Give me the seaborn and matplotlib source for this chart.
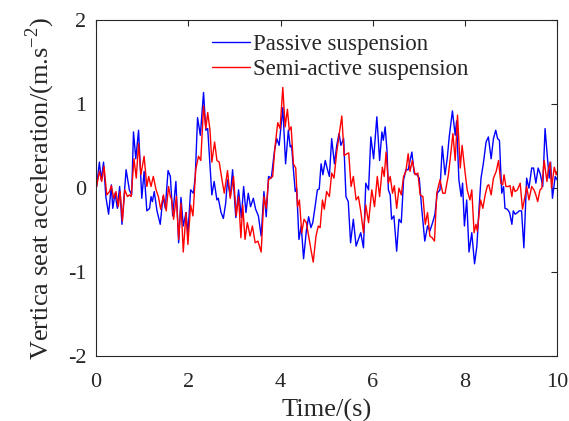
import numpy as np
import pandas as pd
import seaborn as sns
import matplotlib
matplotlib.use("Agg")
import matplotlib.pyplot as plt

# values (time in s, acceleration in m/s^2)
t_passive = [0.01, 0.07, 0.11, 0.16, 0.21, 0.27, 0.33, 0.36, 0.41, 0.46, 0.51, 0.56, 0.65, 0.72, 0.77,
             0.81, 0.86, 0.92, 0.99, 1.04, 1.10, 1.16, 1.19, 1.22, 1.26, 1.32, 1.39, 1.45, 1.50, 1.56,
             1.61, 1.66, 1.73, 1.79, 1.84, 1.89, 1.95, 1.99, 2.05, 2.11, 2.15, 2.20, 2.26, 2.33, 2.38,
             2.42, 2.51, 2.56, 2.62, 2.65, 2.71, 2.76, 2.81, 2.85, 2.91, 2.96, 3.03, 3.09, 3.15, 3.20,
             3.25, 3.30, 3.35, 3.41, 3.46, 3.52, 3.58, 3.64, 3.69, 3.74, 3.80, 3.87, 3.92, 3.97, 4.05,
             4.11, 4.17, 4.21, 4.24, 4.28, 4.32, 4.35, 4.40, 4.45, 4.50, 4.56, 4.61, 4.66, 4.70, 4.75,
             4.80, 4.84, 4.88, 4.92, 4.97, 5.02, 5.06, 5.11, 5.17, 5.22, 5.27, 5.31, 5.37, 5.42, 5.47,
             5.52, 5.58, 5.64, 5.69, 5.74, 5.80, 5.85, 5.91, 5.96, 6.02, 6.09, 6.15, 6.20, 6.23, 6.27,
             6.31, 6.34, 6.38, 6.41, 6.46, 6.52, 6.57, 6.62, 6.67, 6.72, 6.77, 6.85, 6.90, 6.96, 7.01,
             7.06, 7.13, 7.19, 7.24, 7.30, 7.35, 7.40, 7.46, 7.51, 7.57, 7.62, 7.66, 7.73, 7.79, 7.82,
             7.87, 7.92, 7.95, 7.99, 8.04, 8.09, 8.15, 8.21, 8.26, 8.31, 8.35, 8.40, 8.46, 8.51, 8.57,
             8.62, 8.67, 8.71, 8.75, 8.80, 8.84, 8.87, 8.92, 8.97, 9.02, 9.05, 9.09, 9.14, 9.18, 9.23,
             9.28, 9.34, 9.39, 9.45, 9.49, 9.54, 9.59, 9.64, 9.69, 9.74, 9.79, 9.83, 9.86, 9.90, 9.96,
             10.0]
a_passive = [0.02, 0.31, 0.10, 0.31, -0.10, -0.31, 0.04, -0.24, -0.06, -0.24, 0.02, -0.43, 0.22, -0.02, -0.08,
             0.67, 0.35, 0.69, -0.12, 0.20, -0.27, -0.24, -0.10, -0.16, -0.04, -0.27, -0.43, -0.10, -0.24, 0.21,
             0.14, -0.33, 0.08, -0.65, -0.11, -0.45, -0.29, -0.55, -0.02, -0.06, 0.14, 0.84, 0.63, 1.14, 0.69,
             0.71, -0.08, 0.08, -0.14, -0.12, -0.29, -0.36, -0.18, 0.10, -0.10, 0.22, -0.35, -0.02, -0.35, 0.02,
             -0.29, -0.06, -0.22, -0.12, -0.25, -0.33, -0.57, -0.04, -0.34, 0.14, 0.12, 0.45, 0.59, 0.51, 0.96,
             0.29, 0.69, 0.49, 0.51, 0.22, -0.04, 0.00, -0.61, -0.45, -0.84, -0.51, -0.34, -0.47, -0.41, -0.22,
             -0.02, -0.01, 0.29, 0.16, 0.33, 0.22, 0.14, 0.59, 0.29, 0.51, 0.65, 0.51, 0.59, -0.10, -0.16,
             -0.65, -0.37, -0.69, -0.61, -0.53, -0.71, 0.06, -0.02, 0.61, 0.35, 0.85, 0.33, 0.67, 0.57, 0.73,
             0.45, -0.02, -0.08, -0.37, -0.33, -0.75, -0.37, -0.41, 0.10, 0.22, 0.22, 0.43, 0.18, 0.16, 0.12,
             -0.22, -0.63, -0.45, -0.51, -0.41, -0.31, -0.06, -0.02, 0.50, 0.16, 0.37, 0.61, 0.92, 0.63, 0.80,
             0.10, -0.10, 0.06, -0.45, -0.14, -0.76, -0.53, -0.90, -0.69, -0.22, 0.12, 0.29, 0.55, 0.61, 0.35,
             0.59, 0.69, 0.59, 0.57, -0.06, 0.02, -0.24, -0.25, -0.29, -0.43, -0.27, -0.31, -0.29, -0.27, -0.27,
             -0.71, 0.12, 0.00, 0.24, 0.24, 0.06, 0.24, 0.16, 0.02, 0.71, 0.37, 0.12, 0.31, -0.12, 0.14,
             0.10]

t_semi = [0.01, 0.07, 0.12, 0.17, 0.23, 0.29, 0.33, 0.38, 0.43, 0.48, 0.52, 0.57, 0.62, 0.68, 0.72,
          0.76, 0.82, 0.87, 0.92, 0.97, 1.04, 1.10, 1.14, 1.19, 1.24, 1.30, 1.35, 1.40, 1.46, 1.52,
          1.57, 1.61, 1.64, 1.68, 1.74, 1.79, 1.84, 1.89, 1.95, 1.99, 2.05, 2.10, 2.16, 2.22, 2.27,
          2.33, 2.38, 2.42, 2.47, 2.51, 2.57, 2.62, 2.67, 2.73, 2.78, 2.85, 2.91, 2.98, 3.04, 3.09,
          3.14, 3.18, 3.23, 3.28, 3.34, 3.39, 3.45, 3.51, 3.58, 3.64, 3.69, 3.74, 3.83, 3.88, 3.94,
          3.99, 4.05, 4.10, 4.15, 4.19, 4.23, 4.28, 4.33, 4.37, 4.41, 4.46, 4.51, 4.56, 4.61, 4.66,
          4.71, 4.77, 4.82, 4.86, 4.91, 4.95, 5.00, 5.06, 5.11, 5.16, 5.22, 5.28, 5.33, 5.38, 5.44,
          5.48, 5.53, 5.58, 5.64, 5.69, 5.74, 5.80, 5.85, 5.91, 5.98, 6.04, 6.10, 6.15, 6.21, 6.25,
          6.29, 6.34, 6.38, 6.43, 6.47, 6.52, 6.57, 6.62, 6.67, 6.72, 6.77, 6.81, 6.86, 6.92, 6.98,
          7.03, 7.09, 7.14, 7.19, 7.24, 7.29, 7.34, 7.39, 7.46, 7.52, 7.57, 7.64, 7.69, 7.74, 7.79,
          7.84, 7.90, 7.94, 8.00, 8.05, 8.11, 8.15, 8.20, 8.24, 8.27, 8.34, 8.39, 8.44, 8.49, 8.52,
          8.57, 8.62, 8.68, 8.73, 8.78, 8.82, 8.85, 8.89, 8.94, 8.98, 9.02, 9.05, 9.09, 9.14, 9.20,
          9.25, 9.31, 9.34, 9.39, 9.45, 9.50, 9.54, 9.58, 9.63, 9.67, 9.72, 9.78, 9.81, 9.85, 9.88,
          9.94, 9.98, 10.0]
a_semi = [0.02, 0.20, 0.08, 0.26, -0.08, -0.04, 0.03, -0.12, -0.04, -0.22, -0.04, -0.39, -0.02, -0.10, -0.08,
          -0.10, 0.35, 0.12, 0.53, 0.16, 0.38, 0.02, 0.14, 0.02, 0.14, -0.02, -0.10, -0.25, -0.08, -0.27,
          0.02, -0.10, -0.14, -0.37, -0.10, -0.61, -0.18, -0.76, -0.29, -0.67, -0.20, -0.33, 0.22, 0.38, 0.33,
          0.98, 0.71, 0.90, 0.69, 0.31, 0.55, 0.33, 0.31, 0.10, -0.06, 0.21, -0.12, 0.14, -0.33, -0.10,
          -0.59, -0.20, -0.61, -0.41, -0.57, -0.45, -0.65, -0.63, -0.76, -0.10, -0.24, 0.10, 0.14, 0.49, 0.78,
          0.71, 1.20, 0.73, 0.94, 0.69, 0.73, 0.29, 0.24, -0.22, -0.14, -0.53, -0.37, -0.41, -0.57, -0.73,
          -0.88, -0.57, -0.45, -0.47, -0.14, -0.25, -0.04, -0.10, 0.18, 0.12, 0.43, 0.67, 0.86, 0.39, 0.41,
          0.42, 0.02, 0.14, -0.14, -0.10, -0.27, -0.53, -0.20, -0.41, -0.02, -0.22, 0.14, -0.10, 0.25, 0.14,
          0.43, 0.06, 0.14, -0.06, 0.03, -0.24, 0.00, -0.08, 0.14, 0.20, 0.41, 0.20, 0.33, 0.16, 0.18,
          -0.08, -0.10, -0.43, -0.29, -0.57, -0.59, -0.63, -0.06, 0.10, -0.06, -0.06, 0.15, 0.39, 0.65, 0.33,
          0.87, 0.24, 0.51, 0.21, -0.02, -0.14, -0.02, -0.53, -0.43, -0.51, -0.14, -0.24, -0.08, 0.03, 0.04,
          -0.08, 0.12, 0.20, 0.33, 0.06, 0.04, 0.16, 0.02, 0.02, 0.03, -0.10, 0.02, -0.04, -0.02, 0.06,
          -0.25, -0.08, 0.02, -0.14, 0.02, -0.02, -0.08, -0.16, -0.02, 0.00, 0.33, 0.08, 0.22, 0.31, 0.00,
          0.25, 0.16, 0.20]

x_ticks = [0, 2, 4, 6, 8, 10]
y_ticks = [-2, -1, 0, 1, 2]

sns.set_style("white")
plt.rcParams['font.family'] = ['Liberation Serif', 'DejaVu Serif']
plt.rcParams['mathtext.fontset'] = 'custom'
plt.rcParams['mathtext.rm'] = 'Liberation Serif'
plt.rcParams['axes.unicode_minus'] = False

fig = plt.figure(figsize=(5.69, 4.21), dpi=100)
ax = fig.add_axes([0.169, 0.154, 0.810, 0.798])

sns.lineplot(x=t_passive, y=a_passive, color='#0000ff', linewidth=1.0,
             label='Passive suspension', ax=ax, sort=False, estimator=None)
sns.lineplot(x=t_semi, y=a_semi, color='#ff0000', linewidth=1.0,
             label='Semi-active suspension', ax=ax, sort=False, estimator=None)

ax.set_xlim(0, 10)
ax.set_ylim(-2, 2)
ax.set_xticks(x_ticks)
ax.set_yticks(y_ticks)
ax.tick_params(direction='in', top=True, right=True, labelsize=16, length=4, width=0.8)
ax.tick_params(axis='y', pad=7)
ax.tick_params(axis='x', pad=12)
for s in ax.spines.values():
    s.set_color('#262626')
    s.set_linewidth(0.8)

ax.set_xlabel('Time/(s)', fontsize=19, labelpad=5)
ax.set_ylabel(r'Vertica seat acceleration/(m.s$^{\mathregular{-2}}$)', fontsize=19, labelpad=8)

ax.legend(loc='upper left', bbox_to_anchor=(0.232, 0.986), frameon=False, fontsize=16.5,
          handlelength=1.66, handletextpad=0.1, labelspacing=0.17, borderaxespad=0.0)

fig.savefig('out.png', dpi=100)
